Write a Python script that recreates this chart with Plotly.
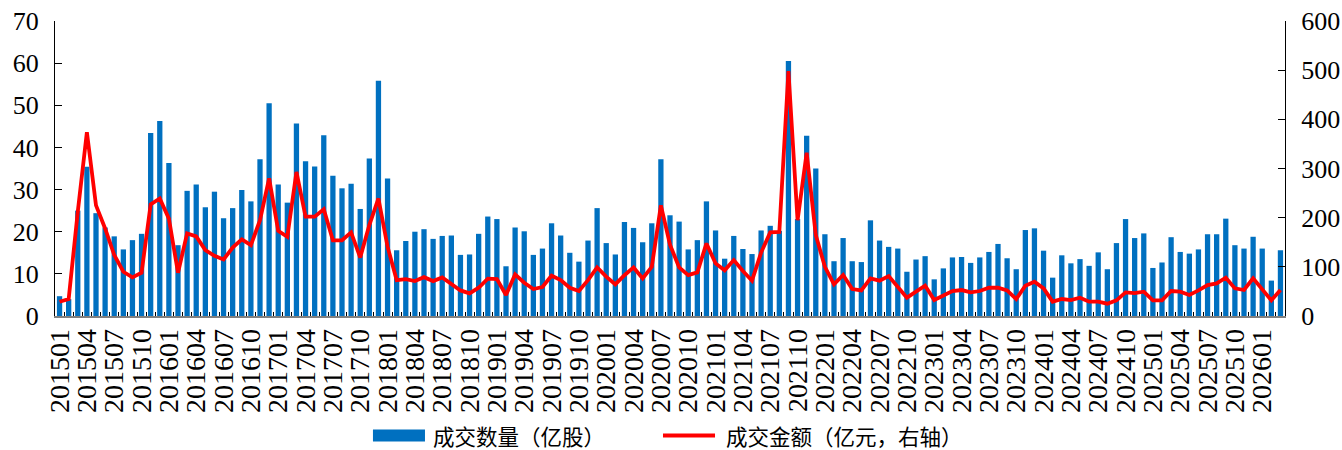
import plotly.graph_objects as go

# months 201501 .. 202603
months = [f"{y}{m:02d}" for y in range(2015, 2027) for m in range(1, 13)][:135]

# 成交数量（亿股）
volume = [
    4.7, 4.0, 25.0, 35.4, 24.4, 21.0, 18.9, 15.8, 18.0, 19.5, 43.4, 46.3,
    36.3, 16.8, 29.7, 31.2, 25.8, 29.5, 23.2, 25.6, 29.9, 27.2, 37.2, 50.5,
    31.2, 26.9, 45.7, 36.7, 35.5, 42.9, 33.3, 30.3, 31.4, 25.4, 37.4, 55.8,
    32.6, 15.6, 17.8, 20.0, 20.6, 18.3, 19.0, 19.1, 14.5, 14.6, 19.5, 23.6,
    23.0, 11.8, 21.0, 20.1, 14.5, 16.0, 22.0, 19.1, 15.0, 12.9, 17.9, 25.6,
    17.3, 14.6, 22.3, 20.9, 17.5, 22.0, 37.2, 23.9, 22.4, 15.8, 18.0, 27.2,
    20.3, 13.6, 19.0, 15.9, 14.7, 20.3, 21.4, 20.2, 60.5, 23.0, 42.8, 35.0,
    19.4, 13.0, 18.5, 13.0, 12.8, 22.7, 17.9, 16.4, 16.0, 10.5, 13.4, 14.2,
    8.7, 11.3, 13.9, 14.0, 12.6, 13.9, 15.2, 17.1, 13.7, 11.1, 20.4, 20.8,
    15.5, 9.1, 14.4, 12.5, 13.5, 11.9, 15.1, 11.1, 17.3, 23.0, 18.5, 19.6,
    11.4, 12.7, 18.7, 15.2, 14.8, 15.8, 19.4, 19.4, 23.1, 16.8, 16.0, 18.8,
    16.0, 8.4, 15.6,
]

# 成交金额（亿元，右轴）
amount = [
    29, 34.5, 212, 374, 225, 178, 124, 90, 78.5, 88, 227, 239,
    198, 88, 168, 162, 134, 122.5, 115, 139, 156, 144, 195, 280,
    173, 161, 293, 202, 202, 217, 154, 154, 170, 119, 185, 239,
    141, 73, 75, 71, 79, 71, 78.5, 66, 52, 46, 57.5, 76,
    75, 42.7, 84.6, 67.7, 54.8, 59, 82, 73, 57.5, 50.8, 73, 98.8,
    80, 64.3, 83, 98.8, 76.5, 100, 225, 145, 98.8, 83, 88.7, 147.6,
    107, 92.8, 113.7, 91.4, 71.8, 129, 170, 171, 498, 195, 332, 164.5,
    100, 64.3, 83.3, 54.8, 52, 76.5, 71.8, 81.2, 59.6, 37.2, 49.4, 61.6,
    32.5, 41.3, 50.8, 52.8, 48, 50.8, 57.5, 57.5, 52, 34.5, 61.6, 69.7,
    56.2, 29.1, 34.5, 32.5, 37.2, 29.1, 29.1, 25, 31.8, 48, 46.7, 49.4,
    31.8, 31.8, 50.8, 49.4, 42.7, 52, 63, 66.4, 77.9, 56.2, 52.8, 76.5,
    54.8, 31.8, 52.8,
]

series_names = ["成交数量（亿股）", "成交金额（亿元，右轴）"]

# label every third month
tick_text = [m if i % 3 == 0 else "" for i, m in enumerate(months)]

SERIF = "Liberation Serif, Times New Roman, Noto Sans CJK SC"
BLUE = "#0070C0"
RED = "#FF0000"

fig = go.Figure()
fig.add_trace(go.Bar(
    x=months, y=volume, name=series_names[0],
    marker=dict(color=BLUE, line=dict(width=0)),
))
fig.add_trace(go.Scatter(
    x=months, y=amount, name=series_names[1], yaxis="y2",
    mode="lines", line=dict(color=RED, width=3.8),
))

# hand-drawn legend below the plot (paper coordinates)
legend_y = -0.405
shapes = [
    dict(type="rect", xref="paper", yref="paper",
         x0=0.2585, x1=0.3008, y0=legend_y - 0.02, y1=legend_y + 0.02,
         fillcolor=BLUE, line=dict(width=0)),
    dict(type="line", xref="paper", yref="paper",
         x0=0.4943, x1=0.5366, y0=legend_y, y1=legend_y,
         line=dict(color=RED, width=4)),
]
annotations = [
    dict(text=series_names[0], xref="paper", yref="paper", x=0.3065, y=legend_y,
         xanchor="left", yanchor="middle", showarrow=False, borderpad=0,
         font=dict(family="Noto Sans CJK SC", size=21.5, color="black")),
    dict(text=series_names[1], xref="paper", yref="paper", x=0.5447, y=legend_y,
         xanchor="left", yanchor="middle", showarrow=False, borderpad=0,
         font=dict(family="Noto Sans CJK SC", size=21.5, color="black")),
]

fig.update_layout(
    width=1342,
    height=450,
    template="plotly_white",
    plot_bgcolor="white",
    paper_bgcolor="white",
    bargap=0.42,
    margin=dict(l=55, r=57, t=21, b=134),
    font=dict(family=SERIF, size=22, color="black"),
    showlegend=False,
    shapes=shapes,
    annotations=annotations,
    xaxis=dict(
        type="category",
        tickmode="array",
        tickvals=months,
        ticktext=tick_text,
        tickangle=-90,
        tickson="boundaries",
        ticks="inside",
        ticklen=4,
        tickcolor="black",
        showline=True,
        linecolor="#808080",
        linewidth=1.5,
        showgrid=False,
        zeroline=False,
        automargin=False,
        tickfont=dict(family=SERIF, size=28, color="black"),
    ),
    yaxis=dict(
        range=[0, 70],
        dtick=10,
        ticks="inside",
        ticklen=7,
        tickcolor="black",
        showline=True,
        linecolor="black",
        linewidth=1.2,
        showgrid=False,
        zeroline=False,
        automargin=False,
        ticklabelstandoff=10,
        tickfont=dict(family=SERIF, size=26, color="black"),
    ),
    yaxis2=dict(
        range=[0, 600],
        dtick=100,
        overlaying="y",
        side="right",
        ticks="inside",
        ticklen=7,
        tickcolor="black",
        showline=True,
        linecolor="black",
        linewidth=1.2,
        showgrid=False,
        zeroline=False,
        automargin=False,
        ticklabelstandoff=10,
        tickfont=dict(family=SERIF, size=26, color="black"),
    ),
)

# drop the default page margin so the figure sits at the window's corner
fig.write_html(
    "out.html",
    config={"displayModeBar": False},
    post_script="document.body.style.margin='0';document.body.style.overflow='hidden';",
)
